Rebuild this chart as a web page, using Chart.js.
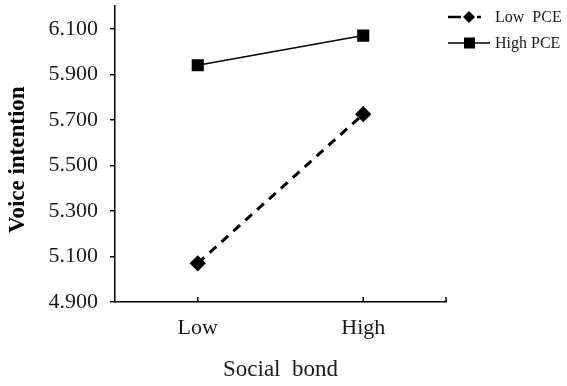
<!DOCTYPE html>
<html>
<head>
<meta charset="utf-8">
<script src="https://cdn.jsdelivr.net/npm/chart.js@4/dist/chart.umd.min.js"></script>
<style>
  html, body { margin: 0; padding: 0; background: #fff; }
  #wrap { width: 567px; height: 386px; position: relative; }
</style>
</head>
<body>
<div id="wrap"><canvas id="voiceChart"></canvas></div>
<script>
const categories = ['Low', 'High'];
const lowPCE = [5.07, 5.725];
const highPCE = [5.94, 6.07];
const yTicks = [4.9, 5.1, 5.3, 5.5, 5.7, 5.9, 6.1];

const serif = "'Liberation Serif', 'Times New Roman', serif";

// draws the small inward tick marks on the x axis and the custom legend
const extrasPlugin = {
    id: 'extras',
    afterDraw(chart) {
        const ctx = chart.ctx;
        const x = chart.scales.x;
        const area = chart.chartArea;
        ctx.save();
        ctx.strokeStyle = '#000';
        ctx.lineWidth = 1.5;
        const marks = categories.map((c, i) => x.getPixelForTick(i));
        marks.push(area.right);
        marks.forEach(px => {
            ctx.beginPath();
            ctx.moveTo(px, area.bottom);
            ctx.lineTo(px, area.bottom - 5);
            ctx.stroke();
        });

        // legend
        const items = chart.data.datasets;
        const rows = [17, 43];
        items.forEach((ds, i) => {
            const y = rows[i];
            ctx.strokeStyle = '#000';
            ctx.fillStyle = '#000';
            ctx.lineWidth = i === 0 ? 2.5 : 1.5;
            ctx.beginPath();
            if (i === 0) {
                ctx.moveTo(448, y);
                ctx.lineTo(461, y);
                ctx.moveTo(477, y);
                ctx.lineTo(481, y);
            } else {
                ctx.moveTo(448, y);
                ctx.lineTo(490, y);
            }
            ctx.stroke();
            ctx.beginPath();
            if (i === 0) {
                ctx.moveTo(469, y - 6);
                ctx.lineTo(475, y);
                ctx.lineTo(469, y + 6);
                ctx.lineTo(463, y);
                ctx.closePath();
            } else {
                ctx.rect(464, y - 5.5, 11, 11);
            }
            ctx.fill();
            ctx.font = '16px ' + serif;
            ctx.fillStyle = '#1a1a1a';
            ctx.textAlign = 'left';
            ctx.textBaseline = 'middle';
            ctx.fillText(ds.label, 495, y + 1);
        });
        ctx.restore();
    }
};

new Chart(document.getElementById('voiceChart'), {
    type: 'line',
    data: {
        labels: categories,
        datasets: [{
            label: 'Low  PCE',
            data: lowPCE,
            borderColor: '#000',
            backgroundColor: '#000',
            borderWidth: 3,
            borderDash: [9, 7],
            pointStyle: 'rectRot',
            pointRadius: 6,
            pointHoverRadius: 6,
            tension: 0
        }, {
            label: 'High PCE',
            data: highPCE,
            borderColor: '#000',
            backgroundColor: '#000',
            borderWidth: 1.5,
            pointStyle: 'rect',
            pointRadius: 7.5,
            pointHoverRadius: 7.5,
            tension: 0
        }]
    },
    options: {
        responsive: true,
        maintainAspectRatio: false,
        animation: false,
        layout: { autoPadding: false, padding: { top: 6, right: 121, left: 0, bottom: 0 } },
        plugins: {
            legend: { display: false },
            tooltip: { enabled: false }
        },
        scales: {
            x: {
                offset: true,
                afterFit: s => { s.height = 84; s.paddingLeft = 0; s.paddingRight = 0; },
                grid: { display: false, drawTicks: false },
                border: { display: true, color: '#000', width: 1.5 },
                ticks: {
                    color: '#1a1a1a',
                    padding: 13,
                    font: { family: serif, size: 22 }
                },
                title: {
                    display: true,
                    text: 'Social  bond',
                    color: '#1a1a1a',
                    font: { family: serif, size: 23 },
                    padding: { top: 8, bottom: 2 }
                }
            },
            y: {
                min: 4.9,
                max: 6.2,
                afterFit: s => { s.width = 115; s.paddingTop = 0; s.paddingBottom = 0; },
                afterBuildTicks: s => { s.ticks = yTicks.map(v => ({ value: v })); },
                grid: { display: true, drawOnChartArea: false, drawTicks: true, tickLength: 5, color: '#000', lineWidth: 1.5 },
                border: { display: true, color: '#000', width: 1.5 },
                ticks: {
                    color: '#1a1a1a',
                    padding: 12,
                    font: { family: serif, size: 22 },
                    callback: v => Number(v).toFixed(3)
                },
                title: {
                    display: true,
                    text: 'Voice intention  ',
                    color: '#000',
                    font: { family: serif, size: 23, weight: 'bold' },
                    padding: { top: 4, bottom: 0 }
                }
            }
        }
    },
    plugins: [extrasPlugin]
});
</script>
</body>
</html>
